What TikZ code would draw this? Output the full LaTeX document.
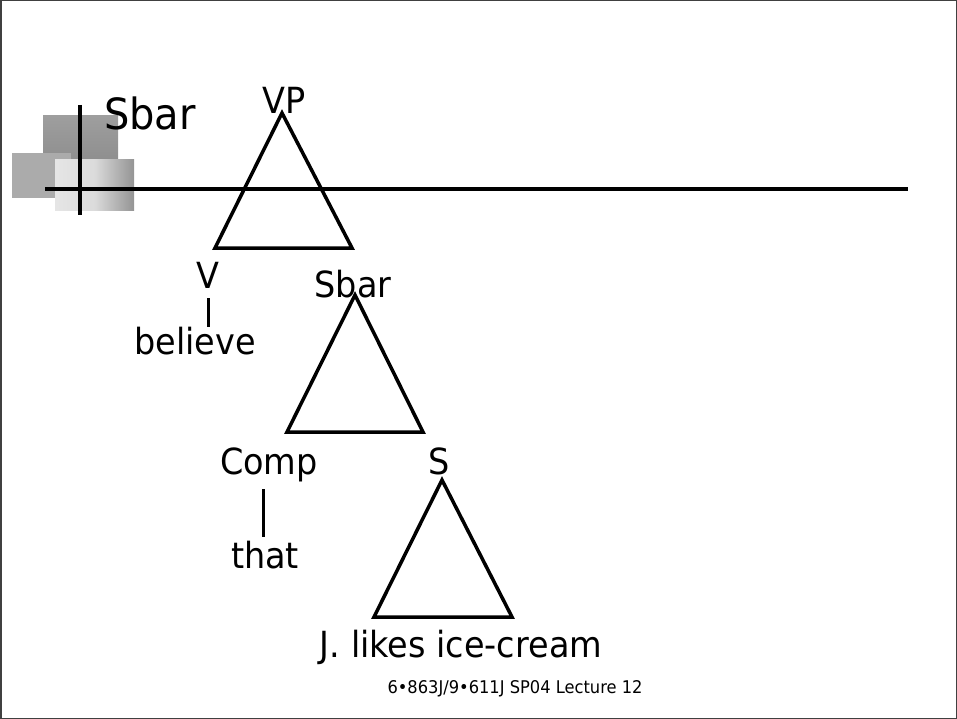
\documentclass[tikz,border=0pt]{standalone}
\usepackage{fontspec}
\setmainfont[FakeStretch=0.93]{DejaVu Sans}
\begin{document}
\begin{tikzpicture}[x=1pt,y=-1pt,
  lbl/.style={inner sep=0pt,anchor=base,font=\fontsize{36}{40}\selectfont},
  tri/.style={draw=black,line width=3.5pt,line join=miter},
  bar/.style={draw=black,line width=3pt},
  rule/.style={draw=black,line width=3.5pt}]
\useasboundingbox (0,0) rectangle (957,719);
\draw[draw=black!75,line width=1.5pt] (0.75,0.75) rectangle (956.25,718.25);
% decoration squares
\shade[top color=black!38,bottom color=black!45] (43,116) rectangle (118,167);
\fill[black!33] (12,153) rectangle (71,198);
\shade[left color=black!10,right color=black!42,middle color=black!14] (55,160) rectangle (134,211);
% rules
\coordinate (vt) at (80,105); \coordinate (vb) at (80,215);
\coordinate (hl) at (45,189); \coordinate (hr) at (908,189);
\draw[rule] (vt) -- (vb);
\draw[rule] (hl) -- (hr);
% title
\node[inner sep=0pt,anchor=base west,font=\fontsize{43}{48}\selectfont] (title) at (104,130) {Sbar};
% VP
\node[lbl] (VP) at (284,114) {VP};
\coordinate (vpT) at (282,113); \coordinate (vpL) at (215,248); \coordinate (vpR) at (352,248);
\draw[tri] (vpT) -- (vpL) -- (vpR) -- cycle;
% V - believe
\node[lbl] (V) at (208,288) {V};
\node[lbl] (believe) at (195,354) {believe};
\coordinate (b1t) at (208,298); \coordinate (b1b) at (208,327);
\draw[bar] (b1t) -- (b1b);
% Sbar
\node[lbl] (Sbar) at (353,297) {Sbar};
\coordinate (sbT) at (355,295); \coordinate (sbL) at (287,432); \coordinate (sbR) at (423,432);
\draw[tri] (sbT) -- (sbL) -- (sbR) -- cycle;
% Comp - that
\node[lbl] (Comp) at (269,474) {Comp};
\node[lbl] (that) at (265,568) {that};
\coordinate (b2t) at (263,489); \coordinate (b2b) at (263,537);
\draw[bar] (b2t) -- (b2b);
% S
\node[lbl] (S) at (439,474) {S};
\coordinate (sT) at (442,480); \coordinate (sL) at (374,617); \coordinate (sR) at (512,617);
\draw[tri] (sT) -- (sL) -- (sR) -- cycle;
\node[lbl] (yield) at (461,657) {J. likes ice-cream};
% footer
\node[inner sep=0pt,anchor=base,font=\fontsize{17.5}{21}\selectfont] (foot) at (515,693) {6•863J/9•611J SP04 Lecture 12};
\end{tikzpicture}
\end{document}
